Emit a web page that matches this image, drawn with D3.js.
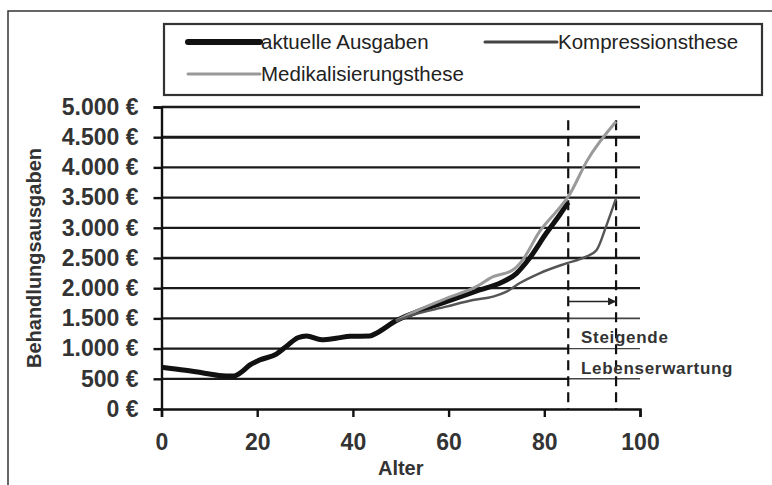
<!DOCTYPE html>
<html>
<head>
<meta charset="utf-8">
<script src="https://cdn.jsdelivr.net/npm/d3@7"></script>
<style>
  body { margin: 0; background: #fff; }
  svg { display: block; font-family: 'Liberation Sans', Arial, sans-serif; }
</style>
</head>
<body>
<svg id="chart" width="772" height="485"></svg>
<script>
// series values: [age, expenditure in EUR]
const actualData = [
  [0, 690], [5, 640], [10, 580], [12, 555], [15, 545], [17, 630], [18.5, 730],
  [20.5, 810], [24, 910], [26, 1030], [28.5, 1180], [30.3, 1210], [33.5, 1145],
  [36.5, 1170], [39.5, 1205], [43.5, 1208], [45, 1260], [49, 1460], [52.6, 1584],
  [59.5, 1777], [66.5, 1970], [70.7, 2081], [74.2, 2247], [76.9, 2495],
  [80.4, 2909], [83.2, 3212], [85, 3420],
];
const compressionData = [
  [49, 1460], [52.6, 1560], [59.5, 1694], [65.1, 1805], [69.3, 1860],
  [72.1, 1943], [74.8, 2081], [79, 2247], [84.6, 2412], [88.5, 2515],
  [90.9, 2630], [92.9, 3020], [95, 3490],
];
const medicalData = [
  [49, 1460], [52.6, 1600], [59.5, 1830], [65.8, 2025], [69.3, 2190],
  [73.4, 2300], [75.5, 2470], [79, 2935], [82.5, 3267], [85, 3515],
  [89, 4120], [95, 4760],
];

// ticks and labels
const yTicks = [0, 500, 1000, 1500, 2000, 2500, 3000, 3500, 4000, 4500, 5000];
const xTicks = [0, 20, 40, 60, 80, 100];
const lifeExpectancy = [85, 95]; // dashed markers
const dashTop = 4780;
const arrowValue = 1780;
const legendLabels = ['aktuelle Ausgaben', 'Kompressionsthese', 'Medikalisierungsthese'];
const noteLines = ['Steigende', 'Lebenserwartung'];

const svg = d3.select('#chart');

// outer frame (right and bottom edges run off the picture)
svg.append('rect')
  .attr('x', 8).attr('y', 11)
  .attr('width', 800).attr('height', 500)
  .attr('fill', 'none')
  .attr('stroke', '#333')
  .attr('stroke-width', 1.5);

// scales
const xScale = d3.scaleLinear().domain([0, 100]).range([161.5, 640]);
const yScale = d3.scaleLinear().domain([0, 5000]).range([409, 107]);

// gridlines (lower ones are thinner to the right of the 85 marker)
yTicks.filter((d) => d > 0).forEach((v) => {
  const w = v === 4500 ? 3 : 2.3;
  if (v <= 1500) {
    svg.append('line')
      .attr('x1', xScale(0)).attr('x2', xScale(85))
      .attr('y1', yScale(v)).attr('y2', yScale(v))
      .attr('stroke', '#1a1a1a').attr('stroke-width', w);
    svg.append('line')
      .attr('x1', xScale(85)).attr('x2', xScale(100))
      .attr('y1', yScale(v)).attr('y2', yScale(v))
      .attr('stroke', '#444').attr('stroke-width', v === 1500 ? 1.8 : 1.4);
  } else {
    svg.append('line')
      .attr('x1', xScale(0)).attr('x2', xScale(100))
      .attr('y1', yScale(v)).attr('y2', yScale(v))
      .attr('stroke', '#1a1a1a').attr('stroke-width', w);
  }
});

// dashed life expectancy markers
svg.selectAll('.marker')
  .data(lifeExpectancy)
  .enter()
  .append('line')
  .attr('x1', (d) => xScale(d)).attr('x2', (d) => xScale(d))
  .attr('y1', yScale(dashTop)).attr('y2', yScale(0))
  .attr('stroke', '#111')
  .attr('stroke-width', 2.2)
  .attr('stroke-dasharray', '10,6');

// arrow between markers
svg.append('defs').append('marker')
  .attr('id', 'arrow')
  .attr('viewBox', '0 0 10 10')
  .attr('refX', 10).attr('refY', 5)
  .attr('markerWidth', 10).attr('markerHeight', 8)
  .attr('markerUnits', 'userSpaceOnUse')
  .attr('orient', 'auto')
  .append('path')
  .attr('d', 'M0,0L10,5L0,10Z')
  .attr('fill', '#222');

svg.append('line')
  .attr('x1', xScale(85)).attr('x2', xScale(95))
  .attr('y1', yScale(arrowValue)).attr('y2', yScale(arrowValue))
  .attr('stroke', '#222')
  .attr('stroke-width', 1.6)
  .attr('marker-end', 'url(#arrow)');

// note text
svg.selectAll('.note')
  .data(noteLines)
  .enter()
  .append('text')
  .attr('x', 581)
  .attr('y', (d, i) => 343 + i * 31)
  .attr('fill', '#333')
  .style('font-size', '17px')
  .style('font-weight', 'bold')
  .style('letter-spacing', '0.7px')
  .text((d) => d);

// line generator
const lineGen = d3.line()
  .x((d) => xScale(d[0]))
  .y((d) => yScale(d[1]))
  .curve(d3.curveMonotoneX);

svg.append('path')
  .datum(actualData)
  .attr('fill', 'none')
  .attr('stroke', '#111')
  .attr('stroke-width', 5)
  .attr('stroke-linejoin', 'round')
  .attr('d', lineGen);

svg.append('path')
  .datum(medicalData)
  .attr('fill', 'none')
  .attr('stroke', '#9a9a9a')
  .attr('stroke-width', 3)
  .attr('d', lineGen);

svg.append('path')
  .datum(compressionData)
  .attr('fill', 'none')
  .attr('stroke', '#555')
  .attr('stroke-width', 2.4)
  .attr('d', lineGen);

// y axis
const yAxis = svg.append('g')
  .attr('transform', `translate(${xScale(0)}, 0)`)
  .call(
    d3.axisLeft(yScale)
      .tickValues(yTicks)
      .tickSize(8)
      .tickPadding(15)
      .tickFormat((d) => d3.format(',')(d).replace(/,/g, '.') + ' €')
  );

// x axis
const xAxis = svg.append('g')
  .attr('transform', `translate(0, ${yScale(0)})`)
  .call(
    d3.axisBottom(xScale)
      .tickValues(xTicks)
      .tickSize(8)
      .tickPadding(17)
  );

[yAxis, xAxis].forEach((g) => {
  g.select('.domain').attr('stroke', '#111').attr('stroke-width', 2.4);
  g.selectAll('.tick line').attr('stroke', '#111').attr('stroke-width', 2.4);
  g.selectAll('.tick text')
    .attr('fill', '#333')
    .style('font-size', '23px')
    .style('font-weight', 'bold')
    .style('font-family', "'Liberation Sans', Arial, sans-serif");
});

// axis titles
svg.append('text')
  .attr('x', (xScale(0) + xScale(100)) / 2)
  .attr('y', 475)
  .attr('text-anchor', 'middle')
  .attr('fill', '#333')
  .style('font-size', '20px')
  .style('font-weight', 'bold')
  .text('Alter');

svg.append('text')
  .attr('transform', `translate(41, ${(yScale(0) + yScale(5000)) / 2}) rotate(-90)`)
  .attr('text-anchor', 'middle')
  .attr('fill', '#333')
  .style('font-size', '20px')
  .style('font-weight', 'bold')
  .text('Behandlungsausgaben');

// legend
const legend = svg.append('g');
legend.append('rect')
  .attr('x', 164).attr('y', 24)
  .attr('width', 598).attr('height', 71)
  .attr('fill', '#fff')
  .attr('stroke', '#333')
  .attr('stroke-width', 2.2);

const legendItems = [
  { label: legendLabels[0], x: 188, y: 42, color: '#111', width: 6 },
  { label: legendLabels[1], x: 485, y: 42, color: '#444', width: 3 },
  { label: legendLabels[2], x: 188, y: 74, color: '#999', width: 3 },
];

legendItems.forEach((d) => {
  legend.append('line')
    .attr('x1', d.x).attr('x2', d.x + 72)
    .attr('y1', d.y).attr('y2', d.y)
    .attr('stroke', d.color)
    .attr('stroke-width', d.width)
    .attr('stroke-linecap', 'round');
  legend.append('text')
    .attr('x', d.x + 73)
    .attr('y', d.y)
    .attr('dy', '0.35em')
    .attr('fill', '#222')
    .style('font-size', '20.5px')
    .text(d.label);
});
</script>
</body>
</html>
